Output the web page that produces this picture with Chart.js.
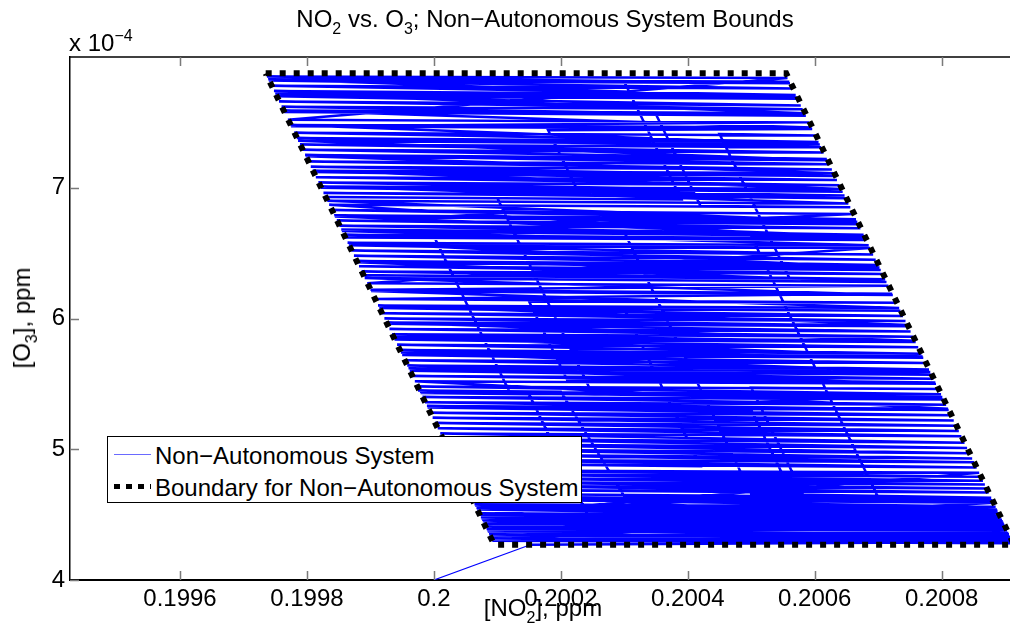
<!DOCTYPE html>
<html>
<head>
<meta charset="utf-8">
<script src="https://cdn.jsdelivr.net/npm/chart.js@4.4.1/dist/chart.umd.min.js"></script>
<style>
  html, body { margin: 0; padding: 0; background: #fff; }
  #wrap { position: relative; width: 1010px; height: 637px; overflow: hidden;
          font-family: "Liberation Sans", Arial, Helvetica, sans-serif; color: #000; }
  #chart { position: absolute; left: 0; top: 0; }
  .txt { position: absolute; white-space: nowrap; font-size: 24px; line-height: 24px; }
  .txt sub { font-size: 16px; line-height: 0; vertical-align: -7px; }
  .txt sup { font-size: 16px; line-height: 0; vertical-align: 10px; }
  #title { left: 545px; top: 7px; transform: translateX(-50%); }
  #xlabel { left: 543px; top: 596px; transform: translateX(-50%); }
  #ylabel { left: 22px; top: 318px; transform: translate(-50%, -50%) rotate(-90deg); }
  #expo { left: 69px; top: 31px; }
  #legend { position: absolute; left: 107px; top: 436px; width: 475px; height: 67px;
            box-sizing: border-box; border: 1px solid #000; background: #fff; }
  .row { position: absolute; left: 0; height: 30px; width: 100%; }
  .row .txt { left: 47px; top: 4px; }
  .sample { position: absolute; left: 6px; width: 37px; top: 14px; }
  .sample.solid { height: 0; border-top: 1.5px solid #6a6aff; }
  .sample.dots { height: 5px; top: 12px;
                 background: repeating-linear-gradient(90deg, #000 0 6px, transparent 6px 12px); }
</style>
</head>
<body>
<div id="wrap">
  <canvas id="chart" width="1010" height="637"></canvas>
  <div class="txt" id="title">NO<sub>2</sub> vs. O<sub>3</sub>; Non&minus;Autonomous System Bounds</div>
  <div class="txt" id="expo">x 10<sup>&minus;4</sup></div>
  <div class="txt" id="xlabel">[NO<sub>2</sub>], ppm</div>
  <div class="txt" id="ylabel">[O<sub>3</sub>], ppm</div>
  <div id="legend">
    <div class="row" style="top:3px"><div class="sample solid"></div><div class="txt">Non&minus;Autonomous System</div></div>
    <div class="row" style="top:35px"><div class="sample dots"></div><div class="txt">Boundary for Non&minus;Autonomous System</div></div>
  </div>
</div>
<script>
// axis ticks
const xTickVals = [0.1996, 0.1998, 0.2, 0.2002, 0.2004, 0.2006, 0.2008];
const xTickLabels = ['0.1996', '0.1998', '0.2', '0.2002', '0.2004', '0.2006', '0.2008'];
const yTickVals = [4, 5, 6, 7];
const yTickLabels = ['4', '5', '6', '7'];

// boundary parallelogram, [NO2] ppm and [O3] in units of 1e-4 ppm
const boundNo2 = [0.199735, 0.200555, 0.200914, 0.200095, 0.199735];
const boundO3 = [7.875, 7.875, 4.27, 4.27, 7.875];

// non-autonomous trajectory
const pathNo2 = [
  0.200000, 0.200152,
  0.200912, 0.200090, 0.200911, 0.200087, 0.200908, 0.200084, 0.200906, 0.200092, 0.200913, 0.200081,
  0.200902, 0.200077, 0.200899, 0.200074, 0.200895, 0.200088, 0.200909, 0.200071, 0.200892, 0.200067,
  0.200888, 0.200079, 0.200900, 0.200064, 0.200885, 0.200060, 0.200882, 0.200085, 0.200905, 0.200075,
  0.200897, 0.200056, 0.200878,
  0.200500, 0.200300,
  0.199854, 0.200677, 0.199851, 0.200672, 0.199847, 0.200669, 0.199843, 0.200665, 0.199839, 0.200661,
  0.199860, 0.200681, 0.199835, 0.200656,
  0.200420, 0.200350,
  0.199764, 0.200586, 0.199760, 0.200581, 0.199756, 0.200578, 0.199752, 0.200573, 0.199748, 0.200570,
  0.199744, 0.200565, 0.199740, 0.200561, 0.199737, 0.200557, 0.199770, 0.200591, 0.199775, 0.200596,
  0.200180, 0.200230,
  0.200649, 0.199826, 0.200647, 0.199822, 0.200644, 0.199818, 0.200639, 0.199814, 0.200635, 0.199810,
  0.200632, 0.199806, 0.200627, 0.199802, 0.200623, 0.199797, 0.200619, 0.199793, 0.200614, 0.199789,
  0.200610, 0.199784, 0.200606, 0.199780, 0.200601,
  0.200450, 0.200560,
  0.199889, 0.200711, 0.199886, 0.200707, 0.199882, 0.200704, 0.199878, 0.200700, 0.199874, 0.200696,
  0.199870, 0.200692, 0.199866, 0.200687, 0.199895, 0.200716, 0.199900, 0.200722, 0.199907, 0.200729,
  0.200150, 0.200210,
  0.200790, 0.199966, 0.200787, 0.199962, 0.200784, 0.199958, 0.200780, 0.199954, 0.200775, 0.199950,
  0.200771, 0.199946, 0.200768, 0.199942, 0.200763, 0.199938, 0.200759, 0.199934, 0.200755, 0.199930,
  0.200751, 0.199926, 0.200747, 0.199922, 0.200743, 0.199918, 0.200739, 0.199914, 0.200735,
  0.200300, 0.200420,
  0.200033, 0.200855, 0.200030, 0.200851, 0.200026, 0.200848, 0.200022, 0.200844, 0.200018, 0.200840,
  0.200014, 0.200836, 0.200010, 0.200831, 0.200006, 0.200827, 0.200002, 0.200823, 0.199998, 0.200819,
  0.199994, 0.200815, 0.199990, 0.200811, 0.199986, 0.200807, 0.199982, 0.200803, 0.199978, 0.200799,
  0.199974, 0.200795,
  0.200500, 0.200580,
  0.200053, 0.200874, 0.200050, 0.200871, 0.200047, 0.200868, 0.200044, 0.200865, 0.200041, 0.200862,
  0.200038, 0.200859, 0.200072, 0.200893, 0.200068, 0.200890, 0.200091, 0.200912,
  0.200600, 0.200500,
  0.199989, 0.200810, 0.199970, 0.200791, 0.199960, 0.200782, 0.199948, 0.200770, 0.199936, 0.200758,
  0.199925, 0.200746, 0.199912, 0.200733, 0.199901, 0.200723, 0.199891, 0.200713, 0.199879, 0.200702,
  0.199864, 0.200685, 0.199855, 0.200678, 0.199844, 0.200667, 0.199832, 0.200653, 0.199821, 0.200642,
  0.199809, 0.200630, 0.199798, 0.200620, 0.199786, 0.200608, 0.199774, 0.200595, 0.199763, 0.200584,
  0.199750, 0.200572, 0.199739, 0.200560,
  0.200300, 0.200390, 0.199829, 0.200100, 0.200250, 0.199975, 0.200200, 0.200300, 0.200880, 0.200700,
  0.200500, 0.200680, 0.199858, 0.200000, 0.200120, 0.200801, 0.199979, 0.200150, 0.200250, 0.200896,
  0.200083, 0.200903, 0.200076, 0.200898, 0.200065, 0.200887, 0.200058, 0.200881
];
const pathO3 = [
  4.00, 4.27,
  4.29, 4.32, 4.30, 4.35, 4.33, 4.38, 4.35, 4.30, 4.28, 4.41,
  4.39, 4.45, 4.42, 4.48, 4.46, 4.34, 4.32, 4.51, 4.49, 4.55,
  4.53, 4.43, 4.41, 4.58, 4.56, 4.62, 4.59, 4.37, 4.36, 4.47,
  4.44, 4.66, 4.63,
  4.66, 6.66,
  6.68, 6.64, 6.71, 6.69, 6.75, 6.72, 6.79, 6.76, 6.83, 6.80,
  6.62, 6.60, 6.87, 6.85,
  6.86, 7.56,
  7.58, 7.55, 7.62, 7.60, 7.66, 7.63, 7.70, 7.68, 7.74, 7.71,
  7.78, 7.76, 7.82, 7.80, 7.85, 7.84, 7.52, 7.50, 7.47, 7.45,
  7.44, 6.94,
  6.92, 6.96, 6.94, 7.00, 6.97, 7.04, 7.02, 7.08, 7.06, 7.12,
  7.09, 7.16, 7.14, 7.20, 7.18, 7.25, 7.22, 7.29, 7.27, 7.33,
  7.31, 7.38, 7.35, 7.42, 7.40,
  7.41, 6.31,
  6.33, 6.30, 6.36, 6.34, 6.40, 6.37, 6.44, 6.41, 6.48, 6.45,
  6.52, 6.49, 6.56, 6.54, 6.27, 6.25, 6.22, 6.19, 6.15, 6.12,
  6.13, 5.53,
  5.51, 5.56, 5.54, 5.60, 5.57, 5.64, 5.61, 5.68, 5.66, 5.72,
  5.70, 5.76, 5.73, 5.80, 5.78, 5.84, 5.82, 5.88, 5.86, 5.92,
  5.90, 5.96, 5.94, 6.00, 5.98, 6.04, 6.02, 6.08, 6.06,
  6.07, 4.87,
  4.89, 4.86, 4.92, 4.90, 4.96, 4.93, 5.00, 4.97, 5.04, 5.01,
  5.08, 5.05, 5.12, 5.10, 5.16, 5.14, 5.20, 5.18, 5.24, 5.22,
  5.28, 5.26, 5.32, 5.30, 5.36, 5.34, 5.40, 5.38, 5.44, 5.42,
  5.48, 5.46,
  5.47, 4.67,
  4.69, 4.67, 4.72, 4.70, 4.75, 4.73, 4.78, 4.76, 4.81, 4.79,
  4.84, 4.82, 4.50, 4.48, 4.54, 4.51, 4.31, 4.29,
  4.30, 5.30,
  5.33, 5.31, 5.52, 5.50, 5.62, 5.59, 5.74, 5.71, 5.86, 5.83,
  5.97, 5.95, 6.10, 6.08, 6.21, 6.18, 6.31, 6.28, 6.43, 6.39,
  6.58, 6.56, 6.67, 6.63, 6.78, 6.74, 6.90, 6.88, 7.01, 6.99,
  7.13, 7.11, 7.24, 7.21, 7.36, 7.33, 7.48, 7.46, 7.59, 7.57,
  7.72, 7.69, 7.83, 7.81,
  7.81, 6.91, 6.93, 6.92, 5.42, 5.45, 5.44, 4.64, 4.61, 4.63,
  6.63, 6.61, 6.64, 6.63, 5.43, 5.40, 5.43, 5.42, 4.42, 4.45,
  4.39, 4.38, 4.46, 4.43, 4.57, 4.54, 4.64, 4.60
];

const xMin = 0.1994267, xMax = 0.2009076;
const yMin = 4, yMax = 8;

const tickFont = { family: '"Liberation Sans", Arial, sans-serif', size: 24 };

// box line on top plus inward tick marks, like the original axes
const axesFrame = {
  id: 'axesFrame',
  afterDraw(chart) {
    const { ctx, chartArea: a, scales } = chart;
    ctx.save();
    ctx.strokeStyle = '#000';
    ctx.lineWidth = 1.5;
    ctx.beginPath();
    ctx.moveTo(a.left, a.top);
    ctx.lineTo(a.right, a.top);
    ctx.stroke();
    ctx.strokeStyle = '#7a7a7a';
    ctx.lineWidth = 1.5;
    ctx.beginPath();
    xTickVals.forEach(v => {
      const px = Math.round(scales.x.getPixelForValue(v)) + 0.5;
      ctx.moveTo(px, a.bottom); ctx.lineTo(px, a.bottom - 9);
      ctx.moveTo(px, a.top); ctx.lineTo(px, a.top + 9);
    });
    yTickVals.forEach(v => {
      const py = Math.round(scales.y.getPixelForValue(v)) + 0.5;
      ctx.moveTo(a.left, py); ctx.lineTo(a.left + 9, py);
    });
    ctx.stroke();
    ctx.restore();
  }
};

new Chart(document.getElementById('chart'), {
  type: 'scatter',
  data: {
    datasets: [
      {
        label: 'Non−Autonomous System',
        data: pathNo2.map((x, i) => ({ x, y: pathO3[i] })),
        showLine: true,
        borderColor: '#0000ff',
        borderWidth: 2.5,
        // the first leg from the initial state is a single thin line
        segment: { borderWidth: c => (c.p0DataIndex === 0 ? 1.2 : undefined) },
        pointRadius: 0,
        tension: 0,
        order: 1
      },
      {
        label: 'Boundary for Non−Autonomous System',
        data: boundNo2.map((x, i) => ({ x, y: boundO3[i] })),
        showLine: true,
        borderColor: '#000',
        borderWidth: 6,
        borderDash: [6, 8],
        borderCapStyle: 'butt',
        pointRadius: 0,
        tension: 0,
        order: 0
      }
    ]
  },
  options: {
    responsive: false,
    animation: false,
    layout: { padding: { top: 57, right: 0, left: 0, bottom: 0 } },
    plugins: {
      legend: { display: false },
      title: { display: false },
      tooltip: { enabled: false }
    },
    scales: {
      x: {
        type: 'linear',
        min: xMin,
        max: xMax,
        afterBuildTicks: s => { s.ticks = xTickVals.map(v => ({ value: v })); },
        afterFit: s => { s.height = 57; },
        ticks: {
          callback: (v, i) => xTickLabels[i],
          font: tickFont,
          color: '#000',
          padding: 5,
          maxRotation: 0,
          autoSkip: false
        },
        grid: { drawOnChartArea: false, drawTicks: false },
        border: { color: '#000', width: 2 }
      },
      y: {
        type: 'linear',
        min: yMin,
        max: yMax,
        afterBuildTicks: s => { s.ticks = yTickVals.map(v => ({ value: v })); },
        afterFit: s => { s.width = 70; },
        ticks: {
          callback: (v, i) => yTickLabels[i],
          font: tickFont,
          color: '#000',
          padding: 5,
          autoSkip: false
        },
        grid: { drawOnChartArea: false, drawTicks: false },
        border: { color: '#000', width: 1.5 }
      }
    }
  },
  plugins: [axesFrame]
});
</script>
</body>
</html>
